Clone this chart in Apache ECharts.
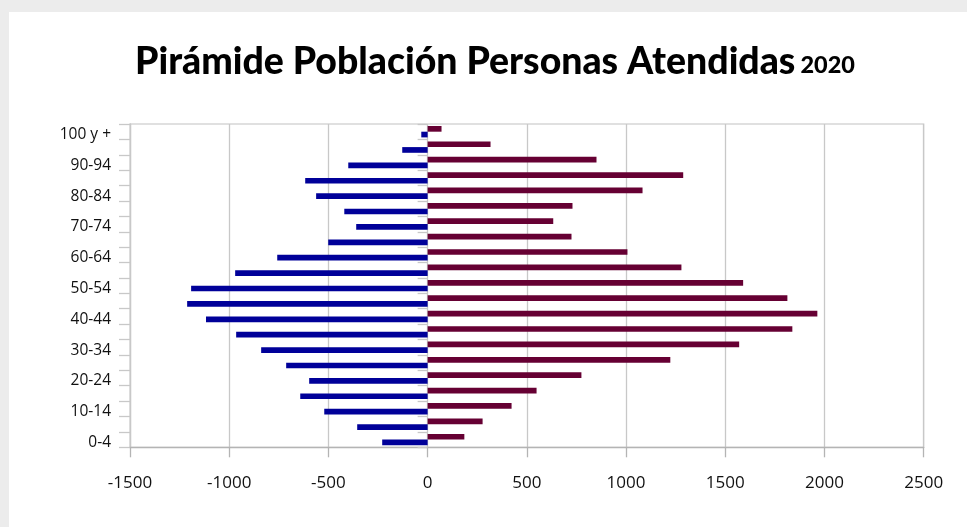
<!DOCTYPE html>
<html>
<head>
<meta charset="utf-8">
<script src="https://cdn.jsdelivr.net/npm/echarts@6/dist/echarts.min.js"></script>
<style>html,body{margin:0;padding:0;background:#ececec;}#c{width:967px;height:527px;}</style>
</head>
<body>
<div id="c"></div>
<script>
var categories = ['0-4','5-9','10-14','15-19','20-24','25-29','30-34','35-39','40-44','45-49','50-54','55-59','60-64','65-69','70-74','75-79','80-84','85-89','90-94','95-99','100 y +'];
var hombres = [-229,-355,-521,-642,-597,-713,-839,-965,-1117,-1212,-1192,-970,-758,-501,-360,-420,-562,-617,-400,-128,-32];
var mujeres = [185,277,423,549,775,1223,1570,1838,1964,1813,1590,1279,1007,725,633,730,1083,1288,851,317,70];
var xMin = -1500, xMax = 2500, xStep = 500;
var titleMain = 'Pirámide Población Personas Atendidas';
var titleYear = '2020';

var chart = echarts.init(document.getElementById('c'), null, {renderer:'canvas'});
chart.setOption({
  backgroundColor: '#ececec',
  animation: false,
  graphic: [{type:'rect', z:-10, shape:{x:9,y:12,width:958,height:515}, style:{fill:'#ffffff'}}],
  title: {
    text: '{a|' + titleMain + '} {b|' + titleYear + '}',
    left: 130, top: 38,
    textStyle: {
      rich: {
        a: {fontFamily:'Lato', fontWeight:900, fontSize:37.4, color:'#000'},
        b: {fontFamily:'Lato', fontWeight:900, fontSize:23.5, color:'#000', verticalAlign:'bottom', padding:[0,0,3,0]}
      }
    }
  },
  grid: {left:130, right:43.3, top:124, bottom:79.7, show:true, borderColor:'#d6d6d6', borderWidth:1.3, containLabel:false},
  xAxis: {
    type:'value', min:xMin, max:xMax, interval:xStep,
    axisLine:{show:true, onZero:false, lineStyle:{color:'#b4b4b4', width:1.3}},
    axisTick:{show:true, length:10, lineStyle:{color:'#b4b4b4', width:1.3}},
    axisLabel:{margin:27, color:'#111', fontSize:17, fontFamily:'Open Sans', formatter:function(v){return String(v);}},
    splitLine:{show:true, lineStyle:{color:'#c8c8c8', width:1.3}}
  },
  yAxis: [{
    type:'category', data:categories, position:'left',
    axisLine:{show:true, onZero:false, lineStyle:{color:'#c8c8c8', width:1.3}},
    axisTick:{show:true, interval:0, length:11, lineStyle:{color:'#c8c8c8', width:1.3}},
    axisLabel:{interval:1, margin:19, color:'#111', fontSize:15.5, fontFamily:'Open Sans',
      formatter:function(v){return '{a|' + v + '}';},
      rich:{a:{fontSize:15.5, fontFamily:'Open Sans', color:'#111', padding:[6,0,0,0]}}},
    splitLine:{show:false}
  },{
    type:'category', data:categories, position:'left',
    axisLine:{show:false, onZero:true},
    axisTick:{show:true, interval:0, length:10, lineStyle:{color:'#c8c8c8', width:1.3}},
    axisLabel:{show:false},
    splitLine:{show:false}
  }],
  series: [
    {name:'Mujeres', type:'bar', yAxisIndex:0, data:mujeres, barGap:'0%', barCategoryGap:'26%', itemStyle:{color:'#660033'}},
    {name:'Hombres', type:'bar', yAxisIndex:0, data:hombres, barGap:'0%', barCategoryGap:'26%', itemStyle:{color:'#000099'}}
  ]
});
</script>
</body>
</html>
